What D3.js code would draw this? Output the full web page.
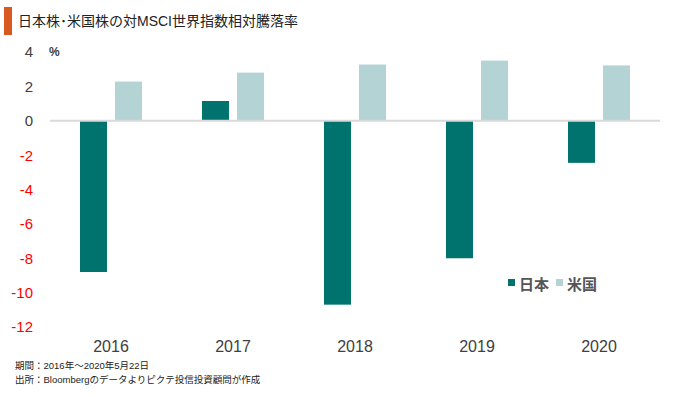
<!DOCTYPE html>
<html>
<head>
<meta charset="utf-8">
<script src="https://cdn.jsdelivr.net/npm/d3@7"></script>
<style>
  body { margin: 0; background: #fff; }
  text { font-family: "Liberation Sans", "Noto Sans CJK JP", sans-serif; }
</style>
</head>
<body>
<div id="chart"></div>
<script>
const years = ["2016", "2017", "2018", "2019", "2020"];
const japan = [-8.8, 1.15, -10.7, -8.0, -2.45];
const usa = [2.28, 2.8, 3.27, 3.5, 3.22];
const yTicks = [4, 2, 0, -2, -4, -6, -8, -10, -12];
const seriesNames = ["日本", "米国"];
const colors = ["#00736f", "#b3d3d5"];

const width = 680, height = 396;
const svg = d3.select('#chart').append('svg')
    .attr('width', width)
    .attr('height', height);

// title with orange marker
svg.append('rect')
    .attr('x', 4).attr('y', 7)
    .attr('width', 8).attr('height', 28)
    .attr('fill', '#d9581f');
svg.append('text')
    .attr('x', 18).attr('y', 26)
    .attr('font-size', 14)
    .attr('fill', '#222')
    .text('日本株･米国株の対MSCI世界指数相対騰落率');

const x = d3.scaleBand().domain(years).range([50, 660]);
const y = d3.scaleLinear().domain([-12, 4]).range([327, 52]);

// y tick labels
svg.selectAll('.ytick')
    .data(yTicks)
    .join('text')
        .attr('class', 'ytick')
        .attr('x', 33)
        .attr('y', d => y(d))
        .attr('dy', '0.36em')
        .attr('text-anchor', 'end')
        .attr('font-size', 15)
        .attr('fill', d => d < 0 ? '#ff0000' : '#404040')
        .text(d => d);

svg.append('text')
    .attr('x', 49).attr('y', y(4))
    .attr('dy', '0.36em')
    .attr('font-size', 12)
    .attr('font-weight', 'bold')
    .attr('fill', '#404040')
    .text('%');

// bars
const barW = 27;
const groups = svg.selectAll('.year')
    .data(years)
    .join('g')
        .attr('class', 'year');

groups.append('rect')
    .attr('x', d => x(d) + x.bandwidth() / 2 - 4 - barW)
    .attr('y', (d, i) => y(Math.max(0, japan[i])))
    .attr('width', barW)
    .attr('height', (d, i) => Math.abs(y(japan[i]) - y(0)))
    .attr('fill', colors[0]);

groups.append('rect')
    .attr('x', d => x(d) + x.bandwidth() / 2 + 4)
    .attr('y', (d, i) => y(Math.max(0, usa[i])))
    .attr('width', barW)
    .attr('height', (d, i) => Math.abs(y(usa[i]) - y(0)))
    .attr('fill', colors[1]);

// zero line
svg.append('line')
    .attr('x1', 50).attr('x2', 660)
    .attr('y1', y(0)).attr('y2', y(0))
    .attr('stroke', '#d9d9d9')
    .attr('stroke-width', 2);

// year labels
groups.append('text')
    .attr('x', d => x(d) + x.bandwidth() / 2)
    .attr('y', 352)
    .attr('text-anchor', 'middle')
    .attr('font-size', 16)
    .attr('fill', '#404040')
    .text(d => d);

// legend
const legend = svg.selectAll('.legend')
    .data(seriesNames)
    .join('g')
        .attr('class', 'legend')
        .attr('transform', (d, i) => `translate(${508 + i * 48}, 285)`);
legend.append('rect')
    .attr('x', 0).attr('y', -6)
    .attr('width', 7).attr('height', 7)
    .attr('fill', (d, i) => colors[i]);
legend.append('text')
    .attr('x', 11).attr('y', 0)
    .attr('dy', '0.36em')
    .attr('font-size', 15)
    .attr('font-weight', 'bold')
    .attr('fill', '#555')
    .text(d => d);

// footnotes
svg.append('text')
    .attr('x', 15).attr('y', 369)
    .attr('font-size', 9.5)
    .attr('fill', '#222')
    .text('期間：2016年～2020年5月22日');
svg.append('text')
    .attr('x', 15).attr('y', 383)
    .attr('font-size', 9.5)
    .attr('fill', '#222')
    .text('出所：Bloombergのデータよりピクテ投信投資顧問が作成');
</script>
</body>
</html>
